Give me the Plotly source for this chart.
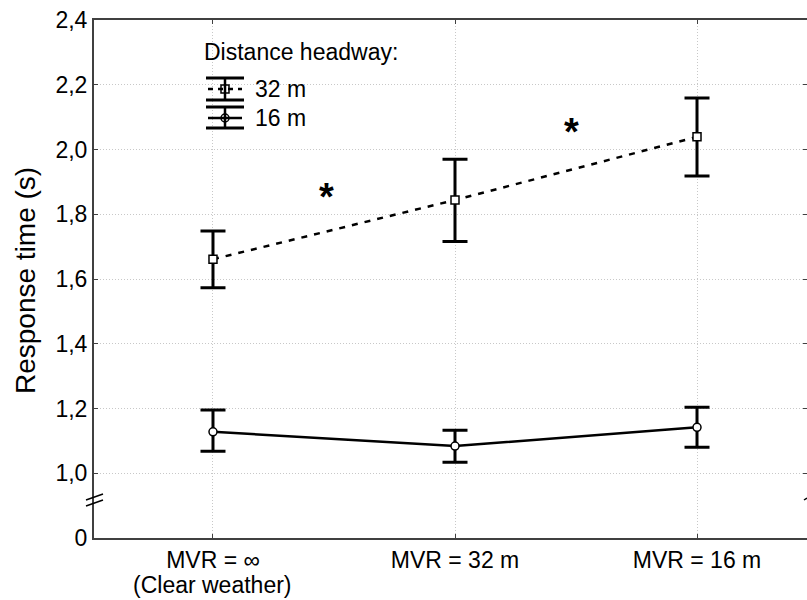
import plotly.graph_objects as go

categories = ["MVR = ∞<br>(Clear weather)", "MVR = 32 m", "MVR = 16 m"]
x_pos = [0, 1, 2]

mean_32 = [1.661, 1.844, 2.039]
upper_32 = [1.748, 1.970, 2.159]
lower_32 = [1.573, 1.716, 1.918]

mean_16 = [1.128, 1.084, 1.142]
upper_16 = [1.195, 1.133, 1.204]
lower_16 = [1.068, 1.034, 1.080]

star_x = [0.470, 1.483]
star_y = [1.875, 2.076]

ytick_vals = [0.8, 1.0, 1.2, 1.4, 1.6, 1.8, 2.0, 2.2, 2.4]
ytick_text = ["0", "1,0", "1,2", "1,4", "1,6", "1,8", "2,0", "2,2", "2,4"]

y_title = "Response time (s)"

FONT = "Liberation Sans, Arial, sans-serif"
TICK_SIZE = 23
LEG_SIZE = 23

def err(mean, up, lo):
    return dict(type="data", symmetric=False,
                array=[u - m for u, m in zip(up, mean)],
                arrayminus=[m - l for m, l in zip(mean, lo)],
                color="black", thickness=3, width=12.5)

fig = go.Figure()
fig.add_trace(go.Scatter(
    x=x_pos, y=mean_32, mode="lines+markers", name="32 m",
    line=dict(color="black", width=2.5, dash="6px,7px"),
    marker=dict(symbol="square", size=8, color="white", line=dict(color="black", width=1.5)),
    error_y=err(mean_32, upper_32, lower_32), showlegend=False))
fig.add_trace(go.Scatter(
    x=x_pos, y=mean_16, mode="lines+markers", name="16 m",
    line=dict(color="black", width=2.5),
    marker=dict(symbol="circle", size=8, color="white", line=dict(color="black", width=1.5)),
    error_y=err(mean_16, upper_16, lower_16), showlegend=False))

W, H = 807, 600
L, R, T, B = 94, 0, 20, 62
pw, ph = W - L - R, H - T - B

def px(x):
    return (x - L) / pw

def py(y):
    return 1 - (y - T) / ph

shapes = []
# legend glyphs
for (ytop, ymid, ybot, dash) in [(78, 89, 100, "5px,5px"), (107, 118, 128, "solid")]:
    shapes.append(dict(type="line", xref="paper", yref="paper", x0=px(206), x1=px(244), y0=py(ytop), y1=py(ytop), line=dict(color="black", width=3)))
    shapes.append(dict(type="line", xref="paper", yref="paper", x0=px(206), x1=px(244), y0=py(ybot), y1=py(ybot), line=dict(color="black", width=3)))
    shapes.append(dict(type="line", xref="paper", yref="paper", x0=px(225), x1=px(225), y0=py(ytop), y1=py(ybot), line=dict(color="black", width=2.5)))
    shapes.append(dict(type="line", xref="paper", yref="paper", x0=px(208), x1=px(242), y0=py(ymid), y1=py(ymid), line=dict(color="black", width=2.5, dash=dash)))

# axis break marks
for dy in [-3, 3]:
    shapes.append(dict(type="line", xref="paper", yref="paper",
                       x0=px(86), x1=px(103), y0=py(503 + dy), y1=py(497 + dy),
                       line=dict(color="black", width=1.5)))
shapes.append(dict(type="line", xref="paper", yref="paper",
                   x0=px(804), x1=px(807), y0=py(500), y1=py(498),
                   line=dict(color="black", width=1.5)))

annotations = [
    dict(xref="paper", yref="paper", x=px(202), y=py(52), text="Distance headway:",
         showarrow=False, xanchor="left", yanchor="middle", font=dict(size=LEG_SIZE, family=FONT, color="black")),
    dict(xref="paper", yref="paper", x=px(253), y=py(89), text="32 m",
         showarrow=False, xanchor="left", yanchor="middle", font=dict(size=LEG_SIZE, family=FONT, color="black")),
    dict(xref="paper", yref="paper", x=px(253), y=py(118), text="16 m",
         showarrow=False, xanchor="left", yanchor="middle", font=dict(size=LEG_SIZE, family=FONT, color="black")),
    dict(xref="paper", yref="paper", x=px(25), y=py(281), text=y_title, textangle=-90,
         showarrow=False, xanchor="center", yanchor="middle", font=dict(size=28, family=FONT, color="black")),
]
for sx, sy in zip(star_x, star_y):
    annotations.append(dict(xref="x", yref="y", x=sx, y=sy, text="<b>*</b>", showarrow=False,
                            xanchor="center", yanchor="middle", yshift=-7,
                            font=dict(size=38, family=FONT, color="black")))

# x category labels: first line as tick label, further lines as annotations
first_lines = [c.split("<br>")[0] for c in categories]
for xv, c in zip(x_pos, categories):
    parts = c.split("<br>")
    for i, extra in enumerate(parts[1:], start=1):
        annotations.append(dict(xref="x", yref="paper", x=xv, y=py(557 + 28 * i), text=extra,
                                showarrow=False, xanchor="center", yanchor="middle",
                                font=dict(size=TICK_SIZE, family=FONT, color="black")))

fig.update_layout(
    width=W, height=H,
    margin=dict(l=L, r=R, t=T, b=B),
    plot_bgcolor="white", paper_bgcolor="white",
    font=dict(family=FONT, size=TICK_SIZE, color="black"),
    shapes=shapes, annotations=annotations,
    xaxis=dict(range=[-0.4917, 2.4545], tickvals=x_pos, ticktext=first_lines,
               showgrid=True, gridcolor="#c8c8c8", griddash="1px,2px", gridwidth=1,
               zeroline=False, showline=True, linecolor="#404040", linewidth=2,
               mirror="ticks", ticks="inside", ticklen=4, tickcolor="#404040",
               tickfont=dict(size=TICK_SIZE), automargin=False),
    yaxis=dict(range=[0.8, 2.4], tickvals=ytick_vals, ticktext=ytick_text,
               showgrid=True, gridcolor="#c8c8c8", griddash="1px,2px", gridwidth=1,
               zeroline=False, showline=True, linecolor="#404040", linewidth=2,
               mirror="ticks", ticks="inside", ticklen=4, tickcolor="#404040",
               tickfont=dict(size=TICK_SIZE), automargin=False),
)

# legend markers on an overlay axis spanning the plot area
fig.update_layout(xaxis2=dict(domain=[0, 1], range=[0, 1], overlaying="x", visible=False),
                  yaxis2=dict(domain=[0, 1], range=[0, 1], overlaying="y", visible=False))
fig.add_trace(go.Scatter(
    x=[px(225)], y=[py(89)], xaxis="x2", yaxis="y2", mode="markers", showlegend=False,
    marker=dict(symbol="square", size=8, color="white", line=dict(color="black", width=1.5))))
fig.add_trace(go.Scatter(
    x=[px(225)], y=[py(118)], xaxis="x2", yaxis="y2", mode="markers", showlegend=False,
    marker=dict(symbol="circle", size=8, color="white", line=dict(color="black", width=1.5))))

fig.write_html("out.html")
